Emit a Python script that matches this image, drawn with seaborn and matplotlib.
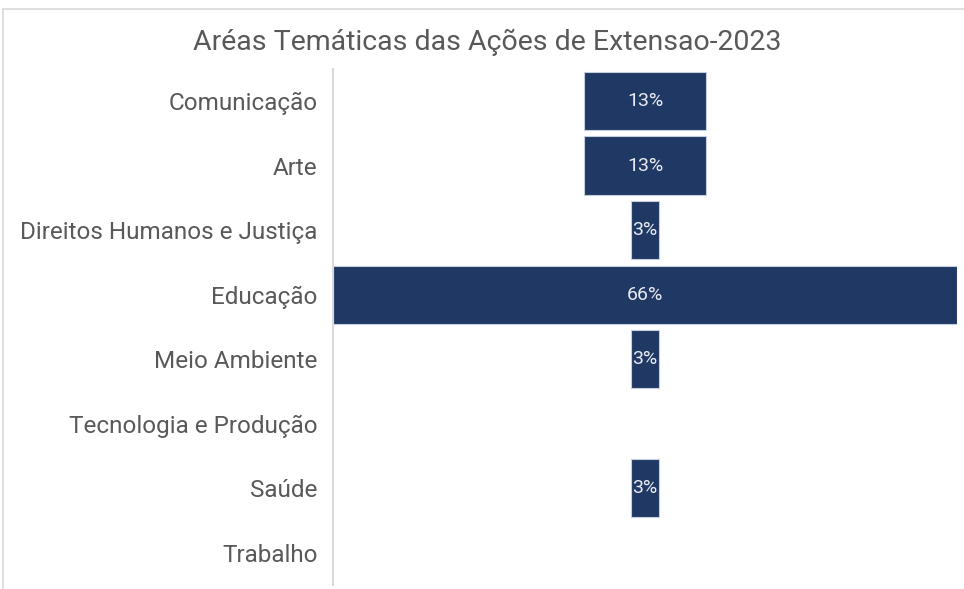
import matplotlib
matplotlib.use("Agg")
import matplotlib.pyplot as plt
import seaborn as sns
import pandas as pd
from matplotlib.lines import Line2D

categories = ["Comunicação", "Arte", "Direitos Humanos e Justiça", "Educação",
              "Meio Ambiente", "Tecnologia e Produção", "Saúde", "Trabalho"]
values = [13, 13, 3, 66, 3, 0, 3, 0]
title = "Aréas Temáticas das Ações de Extensao-2023"

sns.set_theme(style="white")
plt.rcParams['font.family'] = ['Roboto', 'DejaVu Sans']

df = pd.DataFrame({"cat": categories, "val": values})

fig = plt.figure(figsize=(9.64, 5.89), dpi=100)
ax = fig.add_axes([333/964, 1-585/589, (957-333)/964, (585-68.7)/589])

sns.barplot(data=df, x="val", y="cat", orient="h", color="#203864",
            width=0.9, edgecolor="#C5CEDD", linewidth=0.8, ax=ax, saturation=1)

# center bars (funnel)
for p, v in zip(ax.patches, values):
    w = p.get_width()
    p.set_x(-w / 2)
    if v > 0:
        ax.text(0, p.get_y() + p.get_height() / 2, f"{v}%", ha="center", va="center",
                color="#E8ECF2", fontsize=14)
    else:
        p.set_linewidth(0)
        p.set_visible(False)

ax.set_xlim(-33, 33)
ax.set_ylim(7.5, -0.5)
ax.set_xlabel("")
ax.set_ylabel("")
ax.set_xticks([])
ax.tick_params(axis="y", length=0, pad=11, labelsize=17.5, labelcolor="#595959")
for s in ["top", "right", "bottom"]:
    ax.spines[s].set_visible(False)
ax.spines["left"].set_color("#D9D9D9")
ax.spines["left"].set_linewidth(1.5)

fig.text(487/964, 1-42/589, title, ha="center", va="center", fontsize=20.5, color="#595959")

# outer chart border (top and left visible)
fig.add_artist(Line2D([3/964, 1], [1-9/589, 1-9/589], color="#D9D9D9", lw=1.2))
fig.add_artist(Line2D([3/964, 3/964], [0, 1-9/589], color="#D9D9D9", lw=1.2))

fig.savefig("out.png", dpi=100)
